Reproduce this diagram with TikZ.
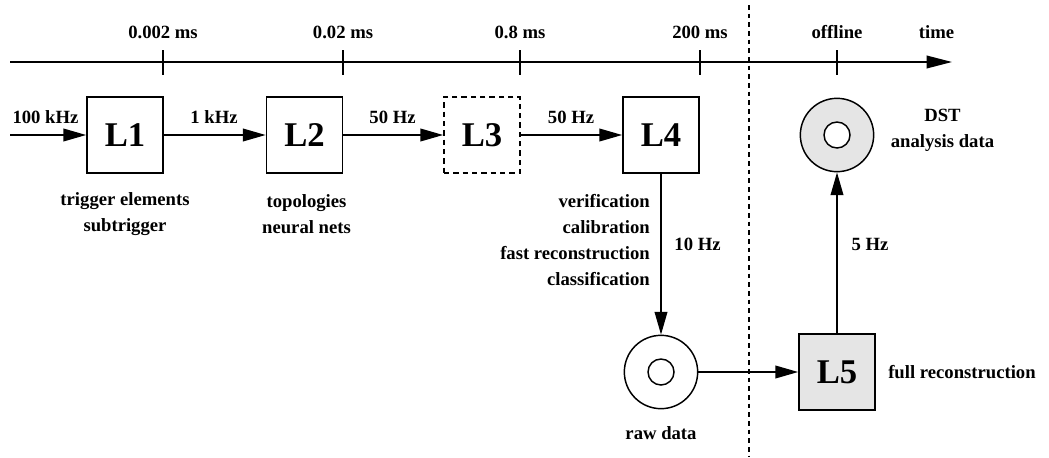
\documentclass[tikz,border=0pt]{standalone}
\usepackage{fontspec}
\setmainfont{Liberation Serif}
\usetikzlibrary{arrows.meta}
\begin{document}
\begin{tikzpicture}[x=0.75pt,y=-0.75pt,
 lbl/.style={font=\bfseries\fontsize{14}{19.5}\selectfont, inner sep=0pt},
 box/.style={draw, line width=1.3pt, minimum size=57pt, inner sep=0pt, font=\bfseries\fontsize{26}{30}\selectfont},
 ring/.style={draw, circle, line width=1.1pt, minimum size=55pt, inner sep=0pt},
 hole/.style={draw, circle, line width=1.1pt, fill=white, minimum size=19.5pt, inner sep=0pt},
 arr/.style={line width=1.1pt, -{Triangle[length=17pt,width=9.5pt]}},
 tick/.style={line width=1.1pt},
 sep/.style={line width=1.1pt, dash pattern=on 3.5pt off 3pt}
]
\useasboundingbox (0,0) rectangle (1049,457);
% time axis
\coordinate (t0) at (10,62);
\coordinate (t1) at (952,62);
\draw[line width=1.1pt, -{Triangle[length=19pt,width=9.5pt]}] (t0) -- (t1);
\foreach \x/\t in {163/0.002 ms, 343/0.02 ms, 520/0.8 ms, 700/200 ms, 837/offline} {
  \draw[tick] (\x,50) -- (\x,75);
  \node[lbl] (lab\x) at (\x,32) {\t};
}
\node[lbl] (time) at (936.5,32) {time};
% separator
\coordinate (s0) at (749,5);
\coordinate (s1) at (749,457);
\draw[sep] (s0) -- (s1);
% boxes
\node[box] (L1) at (125,135) {L1};
\node[box] (L2) at (304.5,135) {L2};
\node[box, dash pattern=on 4pt off 3pt] (L3) at (482,135) {L3};
\node[box] (L4) at (661,135) {L4};
\node[box, fill=gray!20] (L5) at (837,372) {L5};
% data rings
\node[ring, fill=gray!20] (dst) at (837,135) {};
\node[hole] (dsth) at (dst) {};
\node[ring, fill=white] (raw) at (661,372) {};
\node[hole] (rawh) at (raw) {};
% connectors
\coordinate (in) at (10,135);
\draw[arr] (in) -- (L1);
\draw[arr] (L1) -- (L2);
\draw[arr] (L2) -- (L3);
\draw[arr] (L3) -- (L4);
\draw[arr] (L4) -- (raw);
\draw[arr] (raw) -- (L5);
\draw[arr] (L5) -- (dst);
% rate labels
\node[lbl] (r0) at (45.5,117) {100 kHz};
\node[lbl] (r1) at (214,117) {1 kHz};
\node[lbl] (r2) at (392.5,117) {50 Hz};
\node[lbl] (r3) at (571,117) {50 Hz};
\node[lbl] (r4) at (697.5,244) {10 Hz};
\node[lbl] (r5) at (870,244) {5 Hz};
% descriptions
\node[lbl, align=center] (d1) at (125,214) {trigger elements\\subtrigger};
\node[lbl, align=center] (d2) at (306.5,214) {topologies\\neural nets};
\node[lbl, align=right, anchor=east] (d4) at (650,240) {verification\\calibration\\fast reconstruction\\classification};
\node[lbl] (draw) at (661,433) {raw data};
\node[lbl, anchor=west] (d5) at (888,372) {full reconstruction};
\node[lbl, align=center] (ddst) at (942.5,130) {DST\\analysis data};
\end{tikzpicture}
\end{document}
